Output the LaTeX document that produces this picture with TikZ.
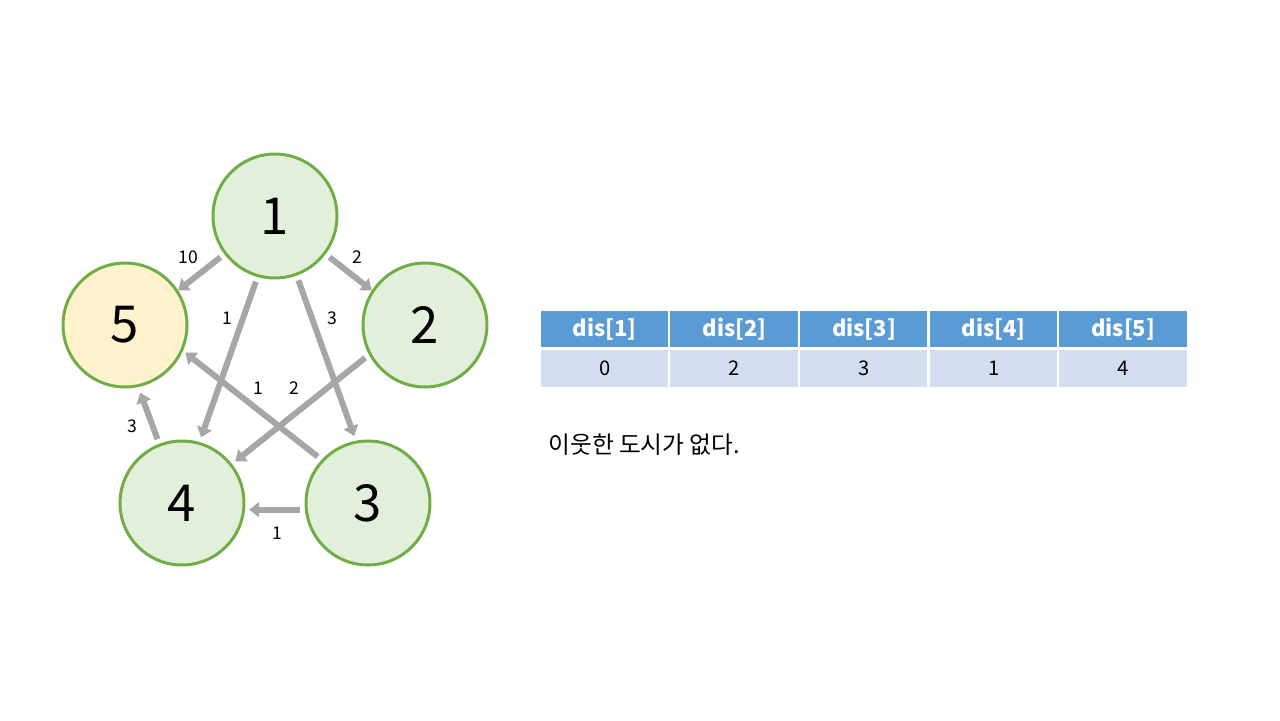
\documentclass[tikz,border=0pt]{standalone}
\usepackage{fontspec}
\setmainfont{Noto Sans CJK KR}
\usepackage{tikz}
\usetikzlibrary{arrows.meta,positioning,calc}
\definecolor{vgreen}{RGB}{112,173,71}
\definecolor{vfill}{RGB}{226,239,218}
\definecolor{vyell}{RGB}{255,242,204}
\definecolor{egray}{RGB}{166,166,166}
\definecolor{thead}{RGB}{91,155,213}
\definecolor{tcell}{RGB}{210,222,239}
\tikzset{
  vtx/.style={circle, draw=vgreen, fill=vfill, line width=1.7pt,
              minimum size=2.48cm, inner sep=0pt, font=\fontsize{29}{31}\selectfont},
  src/.style={vtx, fill=vyell},
  edg/.style={-{Triangle[length=0.2cm, width=0.3cm]}, egray, line width=3.4pt,
              shorten <=2.8pt},
  wlab/.style={font=\fontsize{10}{12}\selectfont, inner sep=0pt},
  hcell/.style={fill=thead, text=white, minimum width=2.56cm, minimum height=0.72cm,
                inner sep=0pt, font=\fontsize{12.5}{14}\selectfont\bfseries},
  vcell/.style={fill=tcell, minimum width=2.56cm, minimum height=0.74cm,
                inner sep=0pt, font=\fontsize{11.5}{13}\selectfont},
}
\begin{document}
\begin{tikzpicture}[x=0.02cm, y=-0.02cm]
    \useasboundingbox (0,0) rectangle (1280,720);
    % vertices
    \node[vtx] (n1) at (275,216) {1};
    \node[vtx] (n2) at (425,325) {2};
    \node[vtx] (n3) at (368,503) {3};
    \node[vtx] (n4) at (182,503) {4};
    \node[src] (n5) at (125,325) {5};
    % weighted edges
    \draw[edg, shorten >=0pt] (n1.217) -- (n5.33);
    \draw[edg, shorten >=0pt] (n1.323) -- (n2.147);
    \draw[edg, shorten >=2.8pt] (n1.254) -- (n4.74);
    \draw[edg, shorten >=2.8pt] (n1.290) -- (n3.101);
    \draw[edg, shorten >=1.7pt] (n3.137) -- (n5.336);
    \draw[edg, shorten >=2.3pt] (n2.208) -- (n4.38);
    \draw[edg, shorten >=3.4pt] (n4.111) -- (n5.282);
    \draw[edg, shorten >=2.3pt] (n3.186) -- (n4.354);
    \node[wlab] (w15) at (188,257) {10};
    \node[wlab] (w12) at (357,257) {2};
    \node[wlab] (w14) at (227,318) {1};
    \node[wlab] (w13) at (332,318) {3};
    \node[wlab] (w35) at (258,388) {1};
    \node[wlab] (w24) at (294,388) {2};
    \node[wlab] (w45) at (132,426) {3};
    \node[wlab] (w34) at (277,533) {1};
    % dis table
    \foreach \i/\d in {1/0, 2/2, 3/3, 4/1, 5/4} {
      \node[hcell] (h\i) at ({540+129.6*(\i-0.5)},329) {dis[\i]};
      \node[vcell] (v\i) at ({540+129.6*(\i-0.5)},368.5) {\d};
    }
    \foreach \i in {1,...,4}
      \draw[white, line width=1pt] (h\i.north east) -- (v\i.south east);
    \node[anchor=west, inner sep=0pt, font=\fontsize{13.5}{15}\selectfont] (msg)
      at (548,445) {이웃한 도시가 없다.};
  \end{tikzpicture}
\end{document}
